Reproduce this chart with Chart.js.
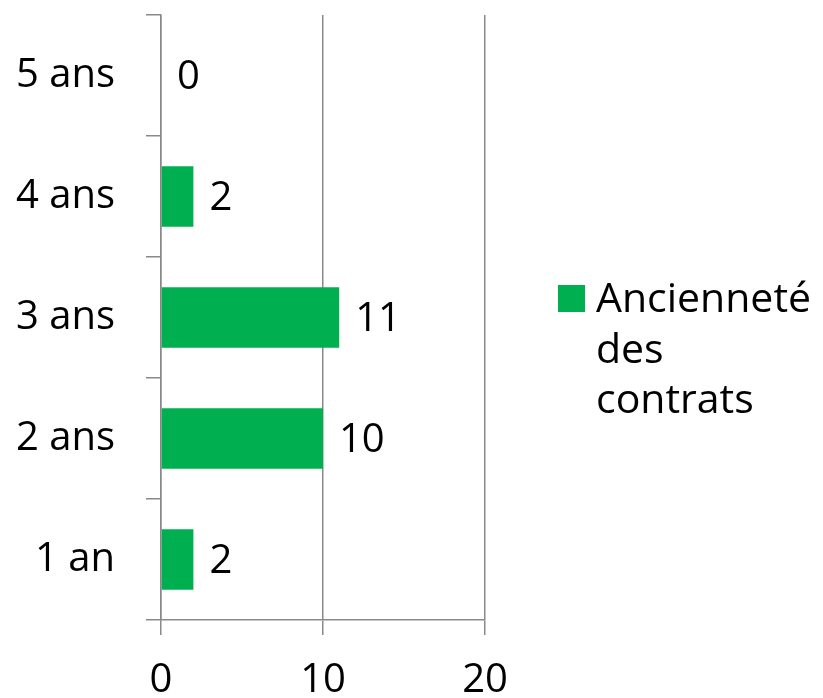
<!DOCTYPE html>
<html>
<head>
<meta charset="utf-8">
<script src="https://cdn.jsdelivr.net/npm/chart.js@4/dist/chart.umd.min.js"></script>
<style>
  html, body { margin: 0; padding: 0; background: #fff; }
  #wrap { width: 823px; height: 698px; }
</style>
</head>
<body>
<div id="wrap"><canvas id="chart" width="823" height="698"></canvas></div>
<script>
var categories = ['1 an', '2 ans', '3 ans', '4 ans', '5 ans'];
var values = [2, 10, 11, 2, 0];
var seriesName = 'Ancienneté des contrats';
var legendLines = ['Ancienneté', 'des', 'contrats'];
var xTicks = [0, 10, 20];

var fontFamily = '"Open Sans", sans-serif';
var fontSize = 40;
var axisColor = '#898989';
var barColor = '#00b050';

// value labels next to each bar
var valueLabels = {
    id: 'valueLabels',
    afterDatasetsDraw: function(chart) {
        var ctx = chart.ctx;
        var meta = chart.getDatasetMeta(0);
        ctx.save();
        ctx.font = fontSize + 'px ' + fontFamily;
        ctx.fillStyle = '#000';
        ctx.textAlign = 'left';
        ctx.textBaseline = 'middle';
        meta.data.forEach(function(bar, i) {
            ctx.fillText(String(chart.data.datasets[0].data[i]), bar.x + 16, bar.y + 2);
        });
        ctx.restore();
    }
};

// legend on the right, wrapped like the original
var sideLegend = {
    id: 'sideLegend',
    afterDraw: function(chart) {
        var ctx = chart.ctx;
        ctx.save();
        ctx.fillStyle = chart.data.datasets[0].backgroundColor;
        ctx.fillRect(558, 285, 27, 27);
        ctx.font = '41px ' + fontFamily;
        ctx.fillStyle = '#000';
        ctx.textAlign = 'left';
        ctx.textBaseline = 'alphabetic';
        legendLines.forEach(function(line, i) {
            ctx.fillText(line, 596, 312 + i * 50.5);
        });
        ctx.restore();
    }
};

new Chart(document.getElementById('chart'), {
    type: 'bar',
    data: {
        labels: categories,
        datasets: [{
            label: seriesName,
            data: values,
            backgroundColor: barColor,
            borderWidth: 0,
            barPercentage: 0.5,
            categoryPercentage: 1.0
        }]
    },
    options: {
        indexAxis: 'y',
        responsive: false,
        animation: false,
        layout: { padding: { top: 15, right: 338, left: 0, bottom: 0 } },
        plugins: {
            legend: { display: false },
            tooltip: { enabled: false }
        },
        scales: {
            x: {
                min: 0,
                max: 20,
                afterBuildTicks: function(scale) {
                    scale.ticks = xTicks.map(function(v) { return { value: v }; });
                },
                grid: { color: axisColor, lineWidth: 1.5, tickLength: 15 },
                border: { color: axisColor, width: 1.5 },
                ticks: {
                    color: '#000',
                    padding: 22,
                    font: { family: fontFamily, size: fontSize }
                },
                afterFit: function(scale) {
                    scale.height = 78;
                    scale.paddingLeft = 0;
                    scale.paddingRight = 0;
                }
            },
            y: {
                reverse: true,
                grid: { drawOnChartArea: false, color: axisColor, lineWidth: 1.5, tickLength: 15 },
                border: { color: axisColor, width: 1.5 },
                ticks: {
                    color: '#000',
                    padding: 31,
                    font: { family: fontFamily, size: fontSize }
                },
                afterFit: function(scale) {
                    scale.width = 161;
                    scale.paddingTop = 0;
                    scale.paddingBottom = 0;
                }
            }
        }
    },
    plugins: [valueLabels, sideLegend]
});
</script>
</body>
</html>
